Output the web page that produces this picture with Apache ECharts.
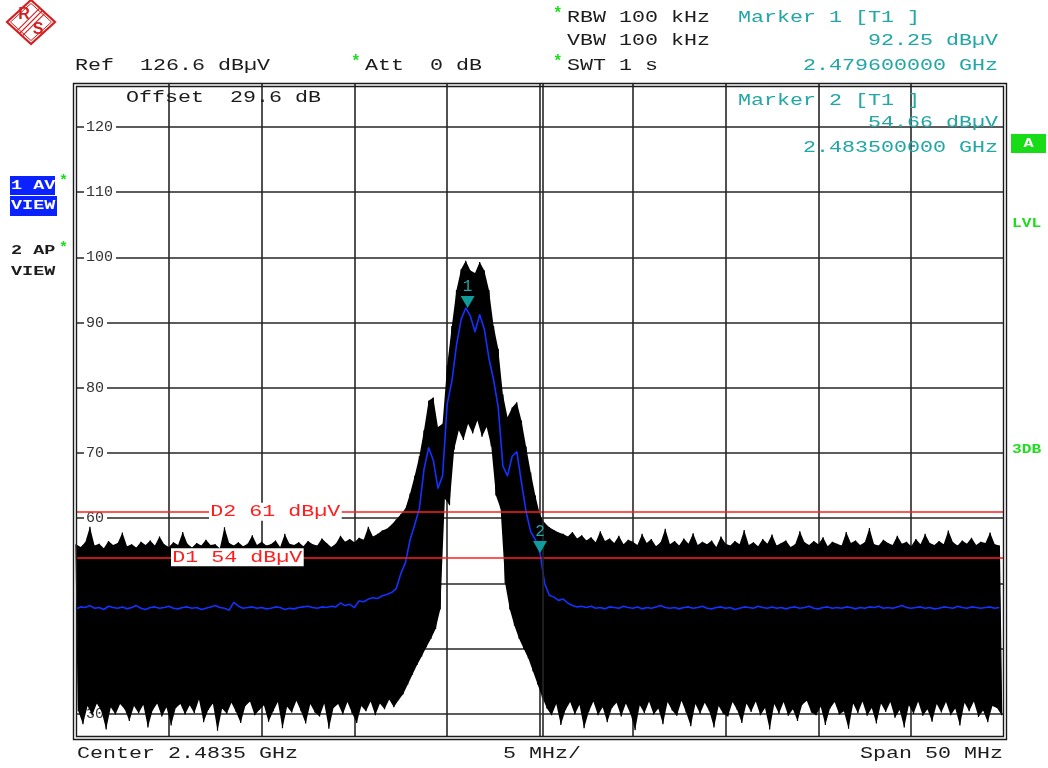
<!DOCTYPE html>
<html>
<head>
<meta charset="utf-8">
<script src="https://cdn.jsdelivr.net/npm/echarts@6/dist/echarts.min.js"></script>
<style>
  html, body { margin: 0; padding: 0; background: #ffffff; }
  #c { width: 1048px; height: 768px; }
</style>
</head>
<body>
<div id="c"></div>
<script>
// Sweep setup: 50 MHz span centred on 2.4835 GHz, 100 dB display range under a 126.6 dBµV reference
const START_MHZ = 2458.5;
const SPAN_MHZ = 50;
const DIV_MHZ = 5;
const BIN_MHZ = 0.25;
const REF_LEVEL = 126.6;
const RANGE_DB = 100;

// Trace 2 (auto peak): per-bin maximum and minimum in dBµV, 0.25 MHz bins
const apPeak = [
  56.0, 55.6, 56.3, 58.7, 55.8, 56.1, 55.4, 56.5, 55.9, 56.2, 57.8, 55.7, 56.0, 55.5, 56.4, 55.9, 56.6, 55.8, 57.2, 56.0,
  55.6, 56.3, 55.9, 57.9, 56.1, 55.5, 56.2, 55.8, 56.7, 55.9, 56.0, 55.4, 58.6, 56.2, 55.8, 56.3, 55.7, 56.1, 57.4, 55.9,
  56.4, 55.8, 56.0, 56.6, 55.6, 57.6, 56.1, 55.9, 56.3, 55.7, 56.5, 56.0, 55.8, 56.9, 56.2, 55.6, 56.1, 57.3, 56.4, 56.8,
  56.3, 57.0, 56.7, 58.7, 57.2, 57.6, 58.1, 58.4, 59.0, 59.8, 60.6, 61.5, 63.8, 66.5, 69.5, 73.5, 78.0, 78.5, 74.0, 74.5,
  83.5, 89.5, 95.0, 98.2, 99.5, 98.0, 97.6, 99.3, 98.0, 95.0, 89.5, 86.0, 79.0, 75.5, 77.0, 77.8, 75.0, 71.0, 67.0, 63.5,
  60.5, 59.3, 58.6, 58.2, 57.8, 57.6, 57.2, 57.9, 56.9, 57.4, 56.6, 57.1, 56.3, 58.0, 56.5, 56.9, 56.2, 57.3, 56.0, 56.7,
  56.4, 55.9, 57.6, 56.2, 56.8, 55.7, 56.3, 58.4, 56.0, 56.5, 55.8, 56.9, 56.1, 57.7, 55.9, 56.4, 56.0, 56.6, 55.6, 57.2,
  56.1, 55.8, 56.5, 56.0, 58.2, 55.9, 56.3, 55.7, 56.8, 56.1, 57.5, 55.8, 56.2, 56.6, 55.6, 56.0, 58.0, 56.3, 55.9, 56.5,
  56.0, 57.1, 55.7, 56.4, 56.1, 55.8, 57.9, 56.2, 56.6, 55.9, 56.3, 58.5, 56.0, 55.8, 56.7, 56.2, 55.9, 57.3, 56.1, 56.4,
  55.7, 56.8, 56.0, 57.6, 56.2, 55.9, 56.5, 56.0, 58.1, 56.3, 55.8, 56.6, 56.1, 57.0, 55.9, 56.4, 56.2, 57.8, 56.0, 55.8
];
const apPit = [
  30.4, 28.4, 31.2, 29.8, 31.6, 30.4, 27.6, 31.0, 29.9, 31.5, 30.7, 28.9, 31.2, 30.1, 31.4, 27.9, 30.5, 31.6, 29.6, 31.0,
  28.2, 30.9, 31.5, 29.9, 31.3, 30.1, 32.2, 28.7, 30.6, 31.6, 27.4, 30.8, 30.0, 31.7, 30.3, 28.6, 31.2, 31.9, 29.8, 30.6,
  31.3, 28.8, 30.4, 31.8, 27.8, 31.1, 30.2, 32.0, 30.4, 28.5, 31.5, 30.2, 29.6, 31.6, 27.7, 30.9, 31.5, 29.9, 31.8, 30.1,
  28.6, 31.2, 30.4, 31.9, 29.8, 31.6, 30.7, 32.2, 31.0, 32.1, 33.0, 34.5, 36.0, 37.5, 38.8, 40.2, 41.5, 43.0, 46.0, 63.0,
  62.0, 70.5, 73.5, 72.0, 74.5, 73.0, 75.0, 72.5, 74.0, 71.0, 63.5, 61.5, 50.0, 46.0, 43.5, 41.5, 40.0, 38.5, 36.5, 34.5,
  32.5, 30.8, 29.8, 31.5, 28.3, 30.6, 31.8, 29.9, 31.4, 27.8, 30.3, 31.9, 29.8, 31.0, 28.7, 30.9, 31.7, 29.6, 31.6, 30.0,
  27.5, 31.3, 30.1, 31.9, 29.9, 30.8, 28.4, 31.8, 30.5, 29.7, 32.0, 30.2, 28.1, 31.5, 30.0, 31.7, 30.4, 27.9, 31.2, 30.0,
  29.6, 31.8, 30.6, 28.6, 31.6, 30.3, 31.9, 29.8, 30.9, 27.6, 31.5, 30.0, 31.8, 29.7, 30.7, 28.9, 31.4, 32.0, 30.2, 29.8,
  31.1, 28.3, 30.8, 31.8, 29.9, 30.4, 27.7, 31.6, 30.1, 31.9, 29.7, 30.9, 28.5, 31.6, 30.3, 31.8, 29.4, 30.6, 27.9, 31.3,
  30.0, 31.9, 29.7, 30.7, 28.8, 31.5, 30.2, 31.8, 29.8, 30.8, 28.2, 31.7, 30.4, 31.9, 29.5, 30.5, 28.7, 31.2, 30.9, 29.8
];

// Trace 1 (average) in dBµV, same 0.25 MHz bins
const avTrace = [
  46.1, 46.4, 46.3, 46.6, 46.2, 46.3, 46.0, 46.5, 46.3, 46.2, 46.4, 46.1, 46.3, 46.6, 46.2, 46.0, 46.3, 46.4, 46.2, 46.3,
  46.5, 46.2, 46.1, 46.3, 46.4, 46.2, 46.3, 46.0, 46.2, 46.4, 46.6, 46.3, 46.2, 45.9, 47.1, 46.5, 46.2, 46.3, 46.4, 46.2,
  46.3, 46.1, 46.2, 46.4, 46.3, 46.0, 46.2, 46.1, 46.3, 46.4, 46.5, 46.3, 46.2, 46.4, 46.3, 46.5, 46.4, 47.0, 46.6, 46.8,
  46.3, 47.3, 47.2, 47.6, 47.8, 47.7, 48.1, 48.3, 48.6, 49.2, 51.5, 53.2, 56.7, 59.0, 61.5, 67.5, 70.8, 68.9, 64.6, 66.5,
  77.5, 81.0, 86.5, 90.5, 92.25, 91.0, 88.6, 91.2, 89.0, 84.5, 81.2, 77.0, 68.0, 66.5, 69.5, 70.2, 65.5, 61.0, 57.9, 56.7,
  54.66, 50.0, 48.2, 47.9, 47.4, 47.6, 47.0, 46.6, 46.4, 46.5, 46.3, 46.5, 46.2, 46.3, 46.1, 46.4, 46.3, 46.2, 46.5, 46.3,
  46.2, 46.4, 46.1, 46.3, 46.2, 46.4, 46.6, 46.3, 46.2, 46.3, 46.1, 46.3, 46.4, 46.2, 46.3, 46.5, 46.2, 46.1, 46.3, 46.4,
  46.2, 46.3, 46.0, 46.2, 46.4, 46.3, 46.2, 46.5, 46.3, 46.2, 46.4, 46.2, 46.3, 46.1, 46.3, 46.4, 46.2, 46.3, 46.5, 46.2,
  46.1, 46.3, 46.4, 46.2, 46.3, 46.2, 46.4, 46.3, 46.1, 46.3, 46.2, 46.4, 46.3, 46.5, 46.2, 46.3, 46.2, 46.4, 46.6, 46.3,
  46.2, 46.3, 46.4, 46.2, 46.3, 46.1, 46.2, 46.4, 46.3, 46.2, 46.5, 46.3, 46.2, 46.4, 46.3, 46.2, 46.3, 46.4, 46.2, 46.3
];

// Display lines (dBµV) and markers on trace 1
const displayLines = [
  { name: 'D1', level: 54 },
  { name: 'D2', level: 61 }
];
const markers = [
  { id: 1, mhz: 2479.6, level: 92.25 },
  { id: 2, mhz: 2483.5, level: 54.66 }
];
// Second frequency line drawn beside the centre graticule line
const centreLineMhz = 2483.65;

const FONT = 'Liberation Mono';
const INK = '#1c1c1c';
const TEAL = '#22a6a6';
const GREEN = '#1edc1e';
const RED = '#ff1e1e';
const BLUE_BOX = '#0a22ff';
const TRACE_BLUE = '#1432ff';

const rel = mhz => mhz - START_MHZ;
const peakX = i => i * BIN_MHZ;
const pitX = i => i * BIN_MHZ + BIN_MHZ / 2;

// Auto-peak trace alternates between each bin's maximum and minimum
const apData = [];
apPeak.forEach((v, i) => {
  apData.push([peakX(i), v]);
  apData.push([pitX(i), apPit[i]]);
});
const avData = avTrace.map((v, i) => [peakX(i), v]);

const chart = echarts.init(document.getElementById('c'), null, { renderer: 'canvas' });

const gridLine = { show: true, showMinLine: false, showMaxLine: false, lineStyle: { color: '#262626', width: 1.6 } };

chart.setOption({
  animation: false,
  backgroundColor: '#ffffff',
  grid: { left: 76, right: 44, top: 84, bottom: 32, show: false, containLabel: false, outerBoundsMode: 'none' },
  xAxis: {
    type: 'value', min: 0, max: SPAN_MHZ, interval: DIV_MHZ,
    axisLine: { show: false }, axisTick: { show: false }, axisLabel: { show: false },
    splitLine: gridLine
  },
  yAxis: {
    type: 'value', min: REF_LEVEL - RANGE_DB, max: REF_LEVEL,
    splitNumber: 10, minInterval: 10, maxInterval: 10,
    axisLine: { show: false }, axisTick: { show: false },
    axisLabel: {
      inside: true, margin: 8, showMinLabel: false, showMaxLabel: false,
      color: '#333333', fontFamily: FONT, fontSize: 15,
      backgroundColor: '#ffffff', padding: [0, 3, 0, 2]
    },
    splitLine: gridLine
  },
  series: [
    {
      // filled envelope between the per-bin maxima and minima of trace 2
      name: '2 AP envelope', type: 'custom', coordinateSystem: 'cartesian2d', z: 2, silent: true,
      data: [[0, REF_LEVEL - RANGE_DB]],
      renderItem: (params, api) => {
        const pts = apPeak.map((v, i) => api.coord([peakX(i), v]));
        for (let i = apPit.length - 1; i >= 0; i--) pts.push(api.coord([pitX(i), apPit[i]]));
        return { type: 'polygon', shape: { points: pts }, style: { fill: '#000000' } };
      }
    },
    {
      name: '2 AP', type: 'line', data: apData, z: 2,
      showSymbol: false, symbol: 'none', sampling: null, silent: true,
      lineStyle: { color: '#000000', width: 1.2, join: 'bevel' }
    },
    {
      name: '1 AV', type: 'line', data: avData, z: 3,
      showSymbol: false, symbol: 'none', silent: true,
      lineStyle: { color: TRACE_BLUE, width: 1.6, join: 'round' },
      markPoint: {
        silent: true,
        symbol: 'path://M0,0 L14,0 L7,12 Z',
        symbolSize: [14, 12],
        symbolOffset: [0, '-50%'],
        itemStyle: { color: '#109c9c' },
        label: { show: true, position: 'top', distance: 1, color: TEAL, fontFamily: FONT, fontSize: 16, formatter: p => String(p.data.name) },
        data: markers.map(m => ({ name: String(m.id), coord: [rel(m.mhz), m.level] }))
      }
    },
    {
      name: 'lines', type: 'line', data: [], z: 4,
      markLine: {
        silent: true, symbol: 'none', animation: false,
        label: { show: false },
        data: [
          ...displayLines.map(d => ({ yAxis: d.level, lineStyle: { color: RED, width: 1.5, type: 'solid' } })),
          { xAxis: rel(centreLineMhz), lineStyle: { color: '#262626', width: 1.6, type: 'solid' } }
        ]
      }
    }
  ]
});

// Screen text in the instrument's wide monospace face
const SX = 1.354;
function txt(x, y, s, color, o = {}) {
  const el = {
    type: 'text', x, y, z: o.z || 50, silent: true,
    scaleX: o.sx || SX,
    style: {
      text: s, fill: color,
      font: (o.bold ? 'bold ' : '') + (o.size || 16) + 'px "' + FONT + '"',
      textAlign: o.align || 'left', align: o.align || 'left',
      textVerticalAlign: 'middle', verticalAlign: 'middle'
    }
  };
  if (o.bg) { el.style.backgroundColor = o.bg; el.style.padding = o.pad || [1, 2]; }
  return el;
}

const fmtLevel = v => v.toFixed(2) + ' dBµV';
const fmtFreq = mhz => (mhz / 1000).toFixed(9) + ' GHz';

const g = [];

// Logo
const LR = '#d42020';
g.push({ type: 'polygon', z: 40, shape: { points: [[31, 0], [55, 22], [31, 44], [7, 22]] }, style: { fill: 'none', stroke: LR, lineWidth: 2.2 } });
g.push({ type: 'polygon', z: 40, shape: { points: [[31, 3.5], [51.5, 22], [31, 40.5], [10.5, 22]] }, style: { fill: 'none', stroke: LR, lineWidth: 1 } });
[-2.6, 0, 2.6].forEach(d => {
  g.push({ type: 'line', z: 40, shape: { x1: 20 + d, y1: 33 + d, x2: 42 + d, y2: 11 + d }, style: { stroke: LR, lineWidth: 1.1 } });
});
g.push({ type: 'text', z: 41, x: 24, y: 15, style: { text: 'R', fill: LR, font: 'bold 16px "Liberation Sans"', align: 'center', verticalAlign: 'middle' } });
g.push({ type: 'text', z: 41, x: 38, y: 30, style: { text: 'S', fill: LR, font: 'bold 16px "Liberation Sans"', align: 'center', verticalAlign: 'middle' } });

// Header settings
g.push(txt(75, 65.5, 'Ref  ' + REF_LEVEL.toFixed(1) + ' dBµV', INK));
g.push(txt(351, 62, '*', GREEN, { bold: true, sx: 1 }));
g.push(txt(365, 65.5, 'Att  0 dB', INK));
g.push(txt(553, 14, '*', GREEN, { bold: true, sx: 1 }));
g.push(txt(567, 17.5, 'RBW 100 kHz', INK));
g.push(txt(567, 41, 'VBW 100 kHz', INK));
g.push(txt(553, 62, '*', GREEN, { bold: true, sx: 1 }));
g.push(txt(567, 65.5, 'SWT 1 s', INK));

// Marker readouts
g.push(txt(738, 17.5, 'Marker ' + markers[0].id + ' [T1 ]', TEAL));
g.push(txt(998, 41, fmtLevel(markers[0].level), TEAL, { align: 'right' }));
g.push(txt(998, 65.5, fmtFreq(markers[0].mhz), TEAL, { align: 'right' }));
g.push(txt(738, 100.5, 'Marker ' + markers[1].id + ' [T1 ]', TEAL, { z: 1 }));
g.push(txt(998, 122.5, fmtLevel(markers[1].level), TEAL, { align: 'right', z: 1 }));
g.push(txt(998, 147.5, fmtFreq(markers[1].mhz), TEAL, { align: 'right', z: 1 }));

g.push(txt(126, 98, 'Offset  29.6 dB', INK, { z: 1 }));

// Trace labels on the left
g.push({ type: 'rect', z: 40, shape: { x: 10, y: 176, width: 45, height: 19 }, style: { fill: BLUE_BOX } });
g.push({ type: 'rect', z: 40, shape: { x: 10, y: 196, width: 47, height: 20 }, style: { fill: BLUE_BOX } });
g.push(txt(11, 185.5, '1 AV', '#ffffff', { bold: true, size: 13, sx: 1.42 }));
g.push(txt(11, 206, 'VIEW', '#ffffff', { bold: true, size: 13, sx: 1.42 }));
g.push(txt(59, 181, '*', GREEN, { bold: true, size: 15, sx: 1 }));
g.push(txt(11, 251, '2 AP', INK, { bold: true, size: 13, sx: 1.42 }));
g.push(txt(11, 272, 'VIEW', INK, { bold: true, size: 13, sx: 1.42 }));
g.push(txt(59, 248, '*', GREEN, { bold: true, size: 15, sx: 1 }));

// Status flags on the right
g.push({ type: 'rect', z: 40, shape: { x: 1011, y: 134, width: 35, height: 19 }, style: { fill: '#18dc18' } });
g.push(txt(1028.5, 143.5, 'A', '#ffffff', { bold: true, size: 13, sx: 1.3, align: 'center' }));
g.push(txt(1012, 224, 'LVL', GREEN, { bold: true, size: 13, sx: 1.25 }));
g.push(txt(1012, 450, '3DB', GREEN, { bold: true, size: 13, sx: 1.25 }));

// Footer
g.push(txt(77, 754, 'Center ' + ((START_MHZ + SPAN_MHZ / 2) / 1000).toFixed(4) + ' GHz', INK));
g.push(txt(503, 754, DIV_MHZ + ' MHz/', INK));
g.push(txt(1003, 754, 'Span ' + SPAN_MHZ + ' MHz', INK, { align: 'right' }));

// Double screen frame
g.push({ type: 'rect', z: 30, shape: { x: 73.5, y: 83.5, width: 933, height: 656 }, style: { fill: 'none', stroke: '#1a1a1a', lineWidth: 1.4 } });
g.push({ type: 'rect', z: 30, shape: { x: 76.5, y: 86.5, width: 927, height: 650 }, style: { fill: 'none', stroke: '#1a1a1a', lineWidth: 1.4 } });

// Display line captions sit on their lines
const captionX = { D1: 171, D2: 209 };
displayLines.forEach(d => {
  const y = chart.convertToPixel({ yAxisIndex: 0 }, d.level);
  g.push(txt(captionX[d.name], y, d.name + ' ' + d.level + ' dBµV', RED, { z: 60, bg: '#ffffff', pad: [1, 1] }));
});

chart.setOption({ graphic: { elements: g } });
</script>
</body>
</html>
